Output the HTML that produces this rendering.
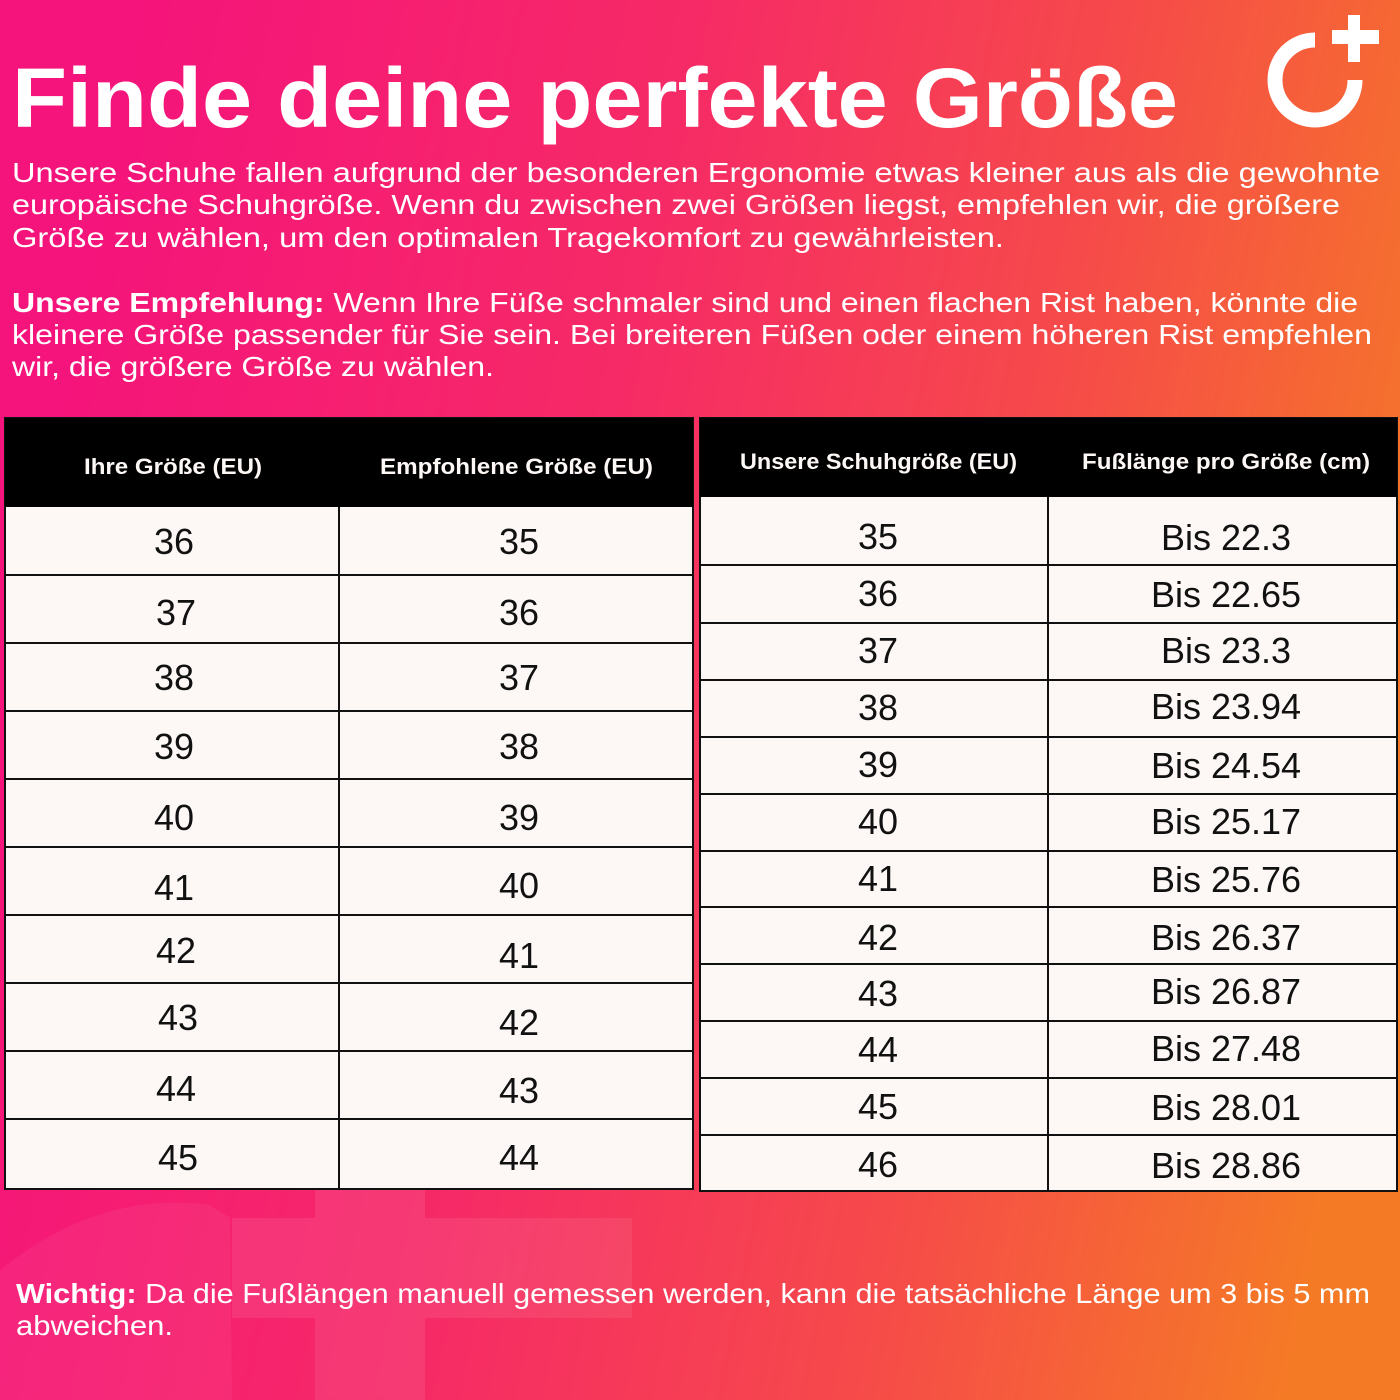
<!DOCTYPE html>
<html><head><meta charset="utf-8"><style>html,body{margin:0;padding:0;}svg{display:block}</style></head><body>
<svg width="1400" height="1400" viewBox="0 0 1400 1400" xmlns="http://www.w3.org/2000/svg" font-family="Liberation Sans, sans-serif">
<defs>
<linearGradient id="bg" x1="0" y1="0.4" x2="1" y2="0.6">
<stop offset="0" stop-color="#f5137c"/>
<stop offset="0.4" stop-color="#f62a66"/>
<stop offset="0.7" stop-color="#f64a4a"/>
<stop offset="1" stop-color="#f57a26"/>
</linearGradient>
</defs>
<rect width="1400" height="1400" fill="url(#bg)"/>
<g fill="#ffffff" opacity="0.08">
<rect x="232" y="1218" width="400" height="100"/>
<rect x="315" y="1190" width="110" height="210"/>
<path d="M0 1270 Q100 1190 210 1205 L230 1218 L232 1400 L0 1400 Z" opacity="0.6"/>
</g>
<g fill="#fff">
<text x="12" y="127" font-size="84" font-weight="bold" textLength="1166" lengthAdjust="spacingAndGlyphs">Finde deine perfekte Größe</text>
<g font-size="28">
<text x="12" y="182" textLength="1368" lengthAdjust="spacingAndGlyphs">Unsere Schuhe fallen aufgrund der besonderen Ergonomie etwas kleiner aus als die gewohnte</text>
<text x="12" y="214" textLength="1328" lengthAdjust="spacingAndGlyphs">europäische Schuhgröße. Wenn du zwischen zwei Größen liegst, empfehlen wir, die größere</text>
<text x="12" y="247" textLength="992" lengthAdjust="spacingAndGlyphs">Größe zu wählen, um den optimalen Tragekomfort zu gewährleisten.</text>
<text x="12" y="312" textLength="1346" lengthAdjust="spacingAndGlyphs"><tspan font-weight="bold">Unsere Empfehlung:</tspan> Wenn Ihre Füße schmaler sind und einen flachen Rist haben, könnte die</text>
<text x="12" y="344" textLength="1360" lengthAdjust="spacingAndGlyphs">kleinere Größe passender für Sie sein. Bei breiteren Füßen oder einem höheren Rist empfehlen</text>
<text x="12" y="376" textLength="482" lengthAdjust="spacingAndGlyphs">wir, die größere Größe zu wählen.</text>
<text x="16" y="1303" textLength="1354" lengthAdjust="spacingAndGlyphs"><tspan font-weight="bold">Wichtig:</tspan> Da die Fußlängen manuell gemessen werden, kann die tatsächliche Länge um 3 bis 5 mm</text>
<text x="16" y="1335" textLength="157" lengthAdjust="spacingAndGlyphs">abweichen.</text>
</g>
</g>
<path d="M1315 40 A40 40 0 1 0 1355 80" fill="none" stroke="#fff" stroke-width="15"/>
<rect x="1348" y="15" width="12" height="47" fill="#fff"/>
<rect x="1332" y="30" width="47" height="14" fill="#fff"/>

<!-- Left table -->
<rect x="5" y="418" width="688" height="771" fill="#fdf8f5" stroke="#111" stroke-width="2"/>
<rect x="5" y="418" width="688" height="89" fill="#000"/>
<g stroke="#111" stroke-width="2">
<line x1="339" y1="507" x2="339" y2="1189"/>
<line x1="5" y1="575" x2="693" y2="575"/><line x1="5" y1="643" x2="693" y2="643"/>
<line x1="5" y1="711" x2="693" y2="711"/><line x1="5" y1="779" x2="693" y2="779"/>
<line x1="5" y1="847" x2="693" y2="847"/><line x1="5" y1="915" x2="693" y2="915"/>
<line x1="5" y1="983" x2="693" y2="983"/><line x1="5" y1="1051" x2="693" y2="1051"/>
<line x1="5" y1="1119" x2="693" y2="1119"/>
</g>
<g fill="#111" font-size="36" text-anchor="middle">
<text x="174" y="554">36</text><text x="519" y="554">35</text>
<text x="176" y="625">37</text><text x="519" y="625">36</text>
<text x="174" y="690">38</text><text x="519" y="690">37</text>
<text x="174" y="759">39</text><text x="519" y="759">38</text>
<text x="174" y="830">40</text><text x="519" y="830">39</text>
<text x="174" y="900">41</text><text x="519" y="898">40</text>
<text x="176" y="963">42</text><text x="519" y="968">41</text>
<text x="178" y="1030">43</text><text x="519" y="1035">42</text>
<text x="176" y="1101">44</text><text x="519" y="1103">43</text>
<text x="178" y="1170">45</text><text x="519" y="1170">44</text>
</g>

<!-- Right table -->
<rect x="700" y="418" width="697" height="773" fill="#fdf8f5" stroke="#111" stroke-width="2"/>
<rect x="700" y="418" width="697" height="79" fill="#000"/>
<g stroke="#111" stroke-width="2">
<line x1="1048" y1="497" x2="1048" y2="1191"/>
<line x1="700" y1="565" x2="1397" y2="565"/><line x1="700" y1="623" x2="1397" y2="623"/>
<line x1="700" y1="680" x2="1397" y2="680"/><line x1="700" y1="737" x2="1397" y2="737"/>
<line x1="700" y1="794" x2="1397" y2="794"/><line x1="700" y1="851" x2="1397" y2="851"/>
<line x1="700" y1="907" x2="1397" y2="907"/><line x1="700" y1="964" x2="1397" y2="964"/>
<line x1="700" y1="1021" x2="1397" y2="1021"/><line x1="700" y1="1078" x2="1397" y2="1078"/>
<line x1="700" y1="1135" x2="1397" y2="1135"/>
</g>
<g fill="#111" font-size="36" text-anchor="middle">
<text x="878" y="549">35</text><text x="1226" y="550">Bis 22.3</text>
<text x="878" y="606">36</text><text x="1226" y="607">Bis 22.65</text>
<text x="878" y="663">37</text><text x="1226" y="663">Bis 23.3</text>
<text x="878" y="720">38</text><text x="1226" y="719">Bis 23.94</text>
<text x="878" y="777">39</text><text x="1226" y="778">Bis 24.54</text>
<text x="878" y="834">40</text><text x="1226" y="834">Bis 25.17</text>
<text x="878" y="891">41</text><text x="1226" y="892">Bis 25.76</text>
<text x="878" y="950">42</text><text x="1226" y="950">Bis 26.37</text>
<text x="878" y="1006">43</text><text x="1226" y="1004">Bis 26.87</text>
<text x="878" y="1062">44</text><text x="1226" y="1061">Bis 27.48</text>
<text x="878" y="1119">45</text><text x="1226" y="1120">Bis 28.01</text>
<text x="878" y="1177">46</text><text x="1226" y="1178">Bis 28.86</text>
</g>

<!-- Header text -->
<g fill="#fdf8f5" font-size="22" font-weight="bold">
<text x="84" y="474" textLength="178" lengthAdjust="spacingAndGlyphs">Ihre Größe (EU)</text>
<text x="380" y="474" textLength="273" lengthAdjust="spacingAndGlyphs">Empfohlene Größe (EU)</text>
<text x="740" y="469" textLength="277" lengthAdjust="spacingAndGlyphs">Unsere Schuhgröße (EU)</text>
<text x="1082" y="469" textLength="288" lengthAdjust="spacingAndGlyphs">Fußlänge pro Größe (cm)</text>
</g>
</svg>
</body></html>
